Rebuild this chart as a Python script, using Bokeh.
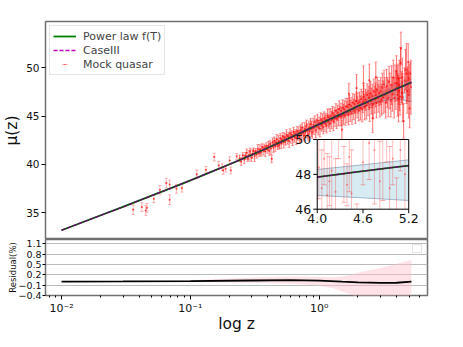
import numpy as np
from bokeh.plotting import figure
from bokeh.models import (Range1d, LinearScale, FixedTicker, Legend, LegendItem)
from bokeh.layouts import column
from bokeh.embed import file_html
from bokeh.resources import INLINE
from bokeh.core.properties import value

FONT = "DejaVu Sans"

# ---------------- data ----------------
# model curves mu(z)
line_z = [0.01, 0.02, 0.03, 0.05, 0.07, 0.1, 0.15, 0.2, 0.3, 0.4, 0.5, 0.7, 1.0, 1.3, 1.6,
          2.0, 2.5, 3.0, 3.5, 4.0, 4.5, 5.0, 5.2]
powerlaw_mu = [33.20, 34.72, 35.61, 36.77, 37.53, 38.35, 39.31, 40.00, 41.00, 41.73, 42.31, 43.21,
               44.17, 44.87, 45.42, 46.03, 46.62, 47.09, 47.49, 47.84, 48.13, 48.40, 48.50]
case3_mu = [33.20, 34.72, 35.61, 36.77, 37.53, 38.35, 39.31, 40.00, 41.00, 41.73, 42.31, 43.21,
            44.17, 44.87, 45.42, 46.03, 46.62, 47.09, 47.49, 47.84, 48.13, 48.40, 48.50]
recon_mu = [33.20, 34.72, 35.61, 36.77, 37.53, 38.35, 39.31, 40.00, 41.00, 41.73, 42.31, 43.21,
            44.17, 44.87, 45.42, 46.03, 46.62, 47.09, 47.49, 47.84, 48.13, 48.40, 48.50]

# reconstruction confidence band
band_z = [0.01, 0.1, 0.3, 0.5, 1.0, 1.5, 2.0, 2.5, 3.0, 3.5, 4.0, 4.6, 5.2]
band_up = [33.22, 38.38, 41.06, 42.36, 44.24, 45.33, 46.15, 46.90, 47.40, 47.85, 48.28, 48.55, 48.83]
band_lo = [33.18, 38.32, 40.96, 42.26, 44.06, 45.05, 45.75, 46.25, 46.55, 46.70, 46.79, 46.65, 46.50]

# mock quasar sample
quasar_z = [
    0.036, 0.042, 0.045, 0.046, 0.052, 0.058, 0.065, 0.069, 0.069, 0.078, 0.086, 0.112, 0.132,
    0.153, 0.166, 0.177, 0.180, 0.188, 0.202, 0.206, 0.229,
    0.241, 0.248, 0.255, 0.262, 0.268, 0.274, 0.279, 0.285, 0.291, 0.297, 0.303, 0.309, 0.315,
    0.321, 0.328, 0.334, 0.341, 0.347, 0.353, 0.360, 0.367, 0.374, 0.381, 0.388, 0.395, 0.428,
    0.403, 0.409, 0.416, 0.422, 0.435, 0.441, 0.448, 0.455, 0.462, 0.469, 0.476, 0.484, 0.491,
    0.499, 0.507, 0.515, 0.523, 0.531, 0.540, 0.548, 0.557, 0.566, 0.575, 0.584, 0.593, 0.603,
    0.612, 0.622, 0.632, 0.642, 0.652, 0.663, 0.673, 0.684, 0.695,
    0.705, 0.716, 0.727, 0.738, 0.749, 0.761, 0.772, 0.784, 0.796, 0.808, 0.820, 0.833, 0.845,
    0.858, 0.871, 0.884, 0.898, 0.911, 0.925, 0.939, 0.954, 0.968, 0.983, 0.998, 1.013, 1.028,
    1.044, 1.060, 1.076, 1.092, 1.109, 1.126, 1.143, 1.160, 1.178, 1.195,
    1.213, 1.231, 1.250, 1.269, 1.288, 1.308, 1.328, 1.348, 1.368, 1.389, 1.410, 1.432, 1.453,
    1.476, 1.498, 1.521, 1.544, 1.568, 1.592, 1.616, 1.641, 1.666, 1.691, 1.717, 1.743, 1.770,
    1.797, 1.824, 1.852, 1.880, 1.909, 1.938, 1.967, 1.997, 1.500, 1.700, 1.950,
    2.027, 2.058, 2.089, 2.121, 2.153, 2.186, 2.219, 2.253, 2.287, 2.322, 2.357, 2.393, 2.429,
    2.466, 2.503, 2.541, 2.580, 2.619, 2.659, 2.699, 2.740, 2.782, 2.824, 2.867, 2.911, 2.955,
    2.205, 2.450, 2.750, 2.600,
    3.000, 3.046, 3.092, 3.139, 3.187, 3.235, 3.284, 3.334, 3.385, 3.436, 3.488, 3.541, 3.595,
    3.650, 3.705, 3.761, 3.818, 3.876, 3.935, 3.980,
    4.020, 4.060, 4.090, 4.130, 4.160, 4.190, 4.240, 4.280, 4.310, 4.350, 4.390, 4.420, 4.450,
    4.520, 4.600, 4.680, 4.750, 4.820, 4.860, 4.910, 4.950, 4.990, 5.040, 5.090, 5.150,
]
quasar_mu = [
    35.32, 35.59, 35.24, 35.52, 36.45, 37.38, 38.07, 37.93, 36.35, 37.49, 37.55, 38.97, 39.45,
    40.76, 39.90, 39.72, 39.38, 39.56, 40.41, 39.38, 40.83,
    40.62, 40.31, 40.95, 40.52, 40.88, 41.20, 40.60, 40.95, 41.35, 40.72, 41.08, 41.40, 40.85,
    41.30, 41.05, 41.62, 41.18, 41.55, 41.25, 41.80, 41.42, 41.70, 41.38, 41.90, 41.55, 40.59,
    41.95, 41.40, 42.10, 41.65, 42.30, 41.75, 42.45, 41.90, 42.25, 42.60, 41.95, 42.40, 42.05,
    42.70, 42.20, 42.55, 42.90, 42.30, 42.75, 42.45, 43.05, 42.60, 42.90, 42.40, 43.20, 42.75,
    43.05, 42.55, 43.35, 42.85, 43.15, 42.70, 43.45, 43.00, 43.30,
    42.85, 43.55, 43.10, 43.80, 43.25, 43.00, 43.65, 43.35, 44.05, 43.50, 43.10, 43.85, 43.45,
    44.20, 43.70, 43.30, 44.10, 43.75, 44.45, 43.55, 44.00, 44.55, 43.80, 44.30, 43.70, 44.65,
    44.10, 44.45, 43.90, 44.80, 44.25, 44.60, 44.05, 45.00, 44.45, 44.85,
    44.20, 45.05, 44.60, 45.30, 44.45, 45.10, 44.75, 45.55, 44.70, 45.35, 44.90, 45.75, 45.00,
    45.55, 44.95, 45.85, 45.20, 45.70, 45.05, 46.00, 45.40, 45.95, 45.15, 46.20, 45.55, 46.05,
    45.30, 46.40, 45.70, 46.25, 45.45, 46.55, 45.90, 46.35, 43.60, 47.30, 47.90,
    45.60, 46.50, 45.85, 46.75, 45.70, 46.45, 47.00, 45.95, 46.70, 46.10, 47.20, 46.35, 46.90,
    45.90, 47.35, 46.55, 47.10, 46.20, 47.55, 46.70, 47.20, 46.35, 47.70, 46.85, 47.40, 46.50,
    48.40, 48.70, 49.00, 44.80,
    47.60, 46.70, 47.95, 46.95, 48.30, 47.20, 46.40, 48.10, 47.45, 46.85, 48.55, 47.60, 46.60,
    48.20, 47.25, 49.00, 46.90, 48.40, 47.70, 49.60,
    48.40, 47.20, 48.90, 46.80, 47.60, 48.20, 47.00, 50.50, 52.00, 48.00, 47.40, 49.00, 46.90,
    44.50, 48.70, 49.80, 49.40, 47.60, 48.30, 50.60, 47.20, 48.90, 45.80, 49.40, 48.00,
]
quasar_err = [
    0.50, 0.45, 0.50, 0.45, 0.40, 0.45, 0.50, 0.45, 0.50, 0.45, 0.40, 0.45, 0.35,
    0.40, 0.40, 0.35, 0.40, 0.35, 0.40, 0.35, 0.30,
    0.35, 0.40, 0.30, 0.45, 0.35, 0.40, 0.30, 0.50, 0.35, 0.40, 0.45, 0.30, 0.55,
    0.35, 0.40, 0.45, 0.35, 0.50, 0.40, 0.35, 0.45, 0.40, 0.55, 0.35, 0.40, 0.40,
    0.45, 0.50, 0.40, 0.60, 0.45, 0.50, 0.40, 0.55, 0.45, 0.50, 0.40, 0.60, 0.45,
    0.50, 0.55, 0.45, 0.40, 0.60, 0.50, 0.45, 0.55, 0.50, 0.45, 0.65, 0.50, 0.55,
    0.45, 0.60, 0.50, 0.55, 0.45, 0.65, 0.50, 0.55, 0.60,
    0.60, 0.55, 0.70, 0.50, 0.65, 0.55, 0.70, 0.60, 0.55, 0.75, 0.60, 0.65, 0.70,
    0.55, 0.80, 0.60, 0.70, 0.65, 0.60, 0.80, 0.70, 0.65, 0.75, 0.60, 0.85, 0.70,
    0.65, 0.80, 0.75, 0.65, 0.85, 0.70, 0.80, 0.75, 0.70, 0.90,
    0.80, 0.75, 0.90, 0.70, 0.95, 0.80, 0.85, 0.75, 1.00, 0.80, 0.90, 0.85, 1.00,
    0.80, 0.95, 0.85, 1.05, 0.90, 1.00, 0.85, 1.10, 0.90, 1.05, 0.95, 1.10, 0.90,
    1.15, 0.95, 1.05, 1.00, 1.20, 0.95, 1.10, 1.05, 1.00, 1.10, 1.40,
    1.10, 1.00, 1.25, 1.05, 1.30, 1.10, 1.20, 1.35, 1.10, 1.40, 1.15, 1.30, 1.20,
    1.45, 1.25, 1.35, 1.20, 1.50, 1.30, 1.40, 1.25, 1.55, 1.35, 1.45, 1.30, 1.60,
    1.80, 1.70, 1.60, 1.50,
    1.40, 1.60, 1.50, 1.70, 1.45, 1.80, 1.60, 1.75, 1.55, 1.90, 1.60, 1.85, 1.70,
    2.00, 1.75, 1.80, 2.10, 1.90, 2.00, 1.65,
    1.80, 2.20, 1.50, 2.40, 1.40, 2.60, 1.90, 1.60, 1.70, 1.60, 1.20, 2.00, 2.50,
    1.80, 1.30, 2.10, 3.10, 2.30, 1.80, 1.90, 2.40, 1.50, 2.00, 1.20, 2.80,
]

# residual panel
res_z = [0.01, 0.03, 0.1, 0.3, 0.6, 1.0, 1.5, 2.0, 3.0, 4.0, 5.2]
res_val = [0.005, 0.008, 0.015, 0.035, 0.045, 0.03, 0.0, -0.02, -0.035, -0.03, 0.005]
res_band_z = [0.01, 0.03, 0.06, 0.1, 0.2, 0.4, 0.7, 1.0, 1.3, 1.7, 2.1, 3.0, 4.0, 5.2]
res_band_up = [0.01, 0.012, 0.02, 0.04, 0.09, 0.14, 0.15, 0.14, 0.13, 0.18, 0.28, 0.40, 0.52, 0.63]
res_band_lo = [-0.005, -0.006, -0.008, -0.01, -0.02, -0.04, -0.07, -0.12, -0.20, -0.35, -0.50, -0.60, -0.60, -0.60]

# axes
x_lim = [0.007505, 6.929]
main_y_lim = [32.24, 54.79]
main_y_ticks = [35, 40, 45, 50]
res_y_lim = [-0.4, 1.225]
res_y_ticks = [-0.4, -0.1, 0.2, 0.5, 0.8, 1.1]
res_y_labels = {-0.4: "\u22120.4", -0.1: "\u22120.1", 0.2: "0.2", 0.5: "0.5", 0.8: "0.8", 1.1: "1.1"}
x_major = [0.01, 0.1, 1.0]
x_labels = {0.01: "10\u207b\u00b2", 0.1: "10\u207b\u00b9", 1.0: "10\u2070"}
x_minor = [0.008, 0.009, 0.02, 0.03, 0.04, 0.05, 0.06, 0.07, 0.08, 0.09,
           0.2, 0.3, 0.4, 0.5, 0.6, 0.7, 0.8, 0.9, 2.0, 3.0, 4.0, 5.0, 6.0]
inset_x_lim = [4.0, 5.2]
inset_y_lim = [46.0, 50.0]
inset_x_ticks = [4.0, 4.6, 5.2]
inset_x_labels = ["4.0", "4.6", "5.2"]
inset_y_ticks = [46.0, 48.0, 50.0]
inset_y_labels = ["46", "48", "50"]

# ---------------- layout ----------------
W = 440
TOP = 21
MAIN_H = 239
RES_H = 98
LEFT, RIGHT, RES_BOTTOM = 40, 13, 42
frame_w = W - LEFT - RIGHT
frame_h = MAIN_H - TOP
# inset box in frame pixels (left, right, top, bottom measured from frame top-left)
ins_px = (275.3, 368.0, 118.0, 187.7)

OUTLINE = "#707070"

z = np.array(quasar_z)
mu = np.array(quasar_mu)
err = np.array(quasar_err)
bar_alpha = np.where(z < 0.235, 0.25, 0.5)

x_range = Range1d(*x_lim)
main = figure(width=W, height=MAIN_H, x_range=x_range, y_range=Range1d(*main_y_lim),
              x_axis_type="log", x_axis_location=None, output_backend="svg",
              toolbar_location=None, min_border_left=LEFT, min_border_right=RIGHT,
              min_border_top=TOP, min_border_bottom=0)
main.outline_line_color = OUTLINE
main.outline_line_width = 1.5
main.grid.visible = False
main.yaxis.ticker = FixedTicker(ticks=main_y_ticks)
main.yaxis.axis_line_color = None
main.yaxis.major_tick_out = 4
main.yaxis.major_tick_in = 0
main.yaxis.minor_tick_out = 0
main.yaxis.minor_tick_in = 0
main.yaxis.major_label_standoff = 2
main.yaxis.major_label_text_font = FONT
main.yaxis.major_label_text_font_size = "10.5px"
main.yaxis.major_label_text_color = "#111111"
main.yaxis.axis_label = "\u03bc(z)"
main.yaxis.axis_label_text_font = FONT
main.yaxis.axis_label_text_font_size = "15.5px"
main.yaxis.axis_label_text_font_style = "normal"
main.yaxis.axis_label_text_color = "#111111"
main.yaxis.axis_label_standoff = 2

# band
main.varea(x=band_z, y1=band_lo, y2=band_up, fill_color="lightblue", fill_alpha=0.5)
main.line(band_z, band_lo, line_color="#6f9fc4", line_width=1, line_alpha=0.8)
main.line(band_z, band_up, line_color="#6f9fc4", line_width=1, line_alpha=0.5)

# quasars
main.segment(x0=z, y0=mu - err, x1=z, y1=mu + err, line_color="red", line_alpha=bar_alpha,
             line_width=1.1)
main.scatter(np.concatenate([z, z]), np.concatenate([mu - err, mu + err]), marker="dash", size=3,
             line_color="red", line_alpha=0.3)
main.scatter(z, mu, marker="circle", size=2.2, fill_color="red", line_color=None, fill_alpha=0.65)

r_pl = main.line(line_z, powerlaw_mu, line_color="green", line_width=1.8)
r_c3 = main.line(line_z, case3_mu, line_color="#bf00bf", line_width=1.3, line_dash="4 2")
main.line(line_z, recon_mu, line_color="#1a1a1a", line_width=0.7)

proxy_bar = main.scatter(x=[np.nan], y=[np.nan], marker="dash", angle=np.pi / 2, size=13,
                         line_color="red", line_alpha=0.35, line_width=1)
proxy_dot = main.scatter(x=[np.nan], y=[np.nan], marker="dot", size=4,
                         line_color="red", fill_color="red", line_alpha=0.6)

legend = Legend(items=[LegendItem(label="Power law f(T)", renderers=[r_pl]),
                       LegendItem(label="CaseIII", renderers=[r_c3]),
                       LegendItem(label="Mock quasar", renderers=[proxy_bar, proxy_dot])],
                location="top_left")
legend.margin = 4
legend.padding = 3
legend.spacing = 0
legend.glyph_width = 23
legend.glyph_height = 14
legend.label_height = 14
legend.label_standoff = 7
legend.label_text_font = FONT
legend.label_text_font_size = "11px"
legend.border_line_color = "#cccccc"
legend.background_fill_alpha = 0.85
main.add_layout(legend)

# ---------------- inset ----------------
ux = (inset_x_lim[1] - inset_x_lim[0]) / (ins_px[1] - ins_px[0])
uy = (inset_y_lim[1] - inset_y_lim[0]) / (ins_px[3] - ins_px[2])
main.extra_x_ranges = {"ins": Range1d(inset_x_lim[0] - ins_px[0] * ux,
                                      inset_x_lim[1] + (frame_w - ins_px[1]) * ux)}
main.extra_y_ranges = {"ins": Range1d(inset_y_lim[0] - (frame_h - ins_px[3]) * uy,
                                      inset_y_lim[1] + ins_px[2] * uy)}
main.extra_x_scales = {"ins": LinearScale()}
main.extra_y_scales = {"ins": LinearScale()}
kw = dict(x_range_name="ins", y_range_name="ins")

main.quad(left=[inset_x_lim[0]], right=[inset_x_lim[1]], bottom=[inset_y_lim[0]],
          top=[inset_y_lim[1]], fill_color="white", line_color=None, **kw)

bz = np.array(band_z)
bm = bz >= inset_x_lim[0]
main.varea(x=bz[bm], y1=np.array(band_lo)[bm], y2=np.array(band_up)[bm],
           fill_color="lightblue", fill_alpha=0.5, **kw)
main.line(bz[bm], np.array(band_lo)[bm], line_color="#8fa8c0", line_width=1, line_alpha=0.8, **kw)
main.line(bz[bm], np.array(band_up)[bm], line_color="#8fa8c0", line_width=1, line_alpha=0.8, **kw)

m = (z >= inset_x_lim[0]) & (z <= inset_x_lim[1])
zi, mi, ei = z[m], mu[m], err[m]
lo = np.clip(mi - ei, *inset_y_lim)
hi = np.clip(mi + ei, *inset_y_lim)
keep = hi > lo
main.segment(x0=zi[keep], y0=lo[keep], x1=zi[keep], y1=hi[keep], line_color="red",
             line_alpha=0.25, line_width=1, **kw)
cap_lo = (mi - ei >= inset_y_lim[0]) & (mi - ei <= inset_y_lim[1])
cap_hi = (mi + ei >= inset_y_lim[0]) & (mi + ei <= inset_y_lim[1])
main.scatter(np.concatenate([zi[cap_lo], zi[cap_hi]]),
             np.concatenate([(mi - ei)[cap_lo], (mi + ei)[cap_hi]]),
             marker="dash", size=5, line_color="red", line_alpha=0.3, **kw)
dm = (mi >= inset_y_lim[0]) & (mi <= inset_y_lim[1])
main.scatter(zi[dm], mi[dm], marker="circle", size=2, fill_color="red", line_color=None,
             fill_alpha=0.4, **kw)

lz = np.array(line_z)
lm = lz >= inset_x_lim[0]
main.line(lz[lm], np.array(powerlaw_mu)[lm], line_color="green", line_width=1.8, **kw)
main.line(lz[lm], np.array(case3_mu)[lm], line_color="#bf00bf", line_width=1.3, line_dash="4 2", **kw)
main.line(lz[lm], np.array(recon_mu)[lm], line_color="#1a1a1a", line_width=0.7, **kw)

main.quad(left=[inset_x_lim[0]], right=[inset_x_lim[1]], bottom=[inset_y_lim[0]],
          top=[inset_y_lim[1]], fill_color=None, line_color="black", line_width=1, **kw)
main.ray(x=inset_x_ticks, y=[inset_y_lim[0]] * 3, length=4, length_units="screen",
         angle=-np.pi / 2, line_color="black", line_width=1, **kw)
main.ray(x=[inset_x_lim[0]] * 3, y=inset_y_ticks, length=4, length_units="screen",
         angle=np.pi, line_color="black", line_width=1, **kw)
main.text(x=inset_x_ticks, y=[inset_y_lim[0]] * 3, text=inset_x_labels, y_offset=5,
          text_align="center", text_baseline="top", text_font=value(FONT),
          text_font_size="12.5px", text_color="#111111", **kw)
main.text(x=[inset_x_lim[0]] * 3, y=inset_y_ticks, text=inset_y_labels, x_offset=-6,
          text_align="right", text_baseline="middle", text_font=value(FONT),
          text_font_size="12.5px", text_color="#111111", **kw)

# ---------------- residual ----------------
res = figure(width=W, height=RES_H, x_range=x_range, y_range=Range1d(*res_y_lim),
             x_axis_type="log", output_backend="svg", toolbar_location=None,
             min_border_left=LEFT, min_border_right=RIGHT, min_border_top=0,
             min_border_bottom=RES_BOTTOM)
res.outline_line_color = OUTLINE
res.outline_line_width = 1.5
res.xgrid.visible = False
res.ygrid.ticker = FixedTicker(ticks=res_y_ticks)
res.ygrid.grid_line_color = "#bbbbbb"
res.ygrid.grid_line_width = 1
res.yaxis.ticker = FixedTicker(ticks=res_y_ticks)
res.yaxis.major_label_overrides = res_y_labels
res.xaxis.ticker = FixedTicker(ticks=x_major, minor_ticks=x_minor)
res.xaxis.major_label_overrides = x_labels
for ax in (res.xaxis, res.yaxis):
    ax.axis_line_color = None
    ax.major_tick_out = 4
    ax.major_tick_in = 0
    ax.major_label_standoff = 2
    ax.major_label_text_font = FONT
    ax.major_label_text_color = "#111111"
res.yaxis.major_tick_out = 3
res.yaxis.major_label_standoff = 1
res.yaxis.minor_tick_out = 0
res.yaxis.minor_tick_in = 0
res.xaxis.minor_tick_out = 2
res.xaxis.minor_tick_in = 0
res.yaxis.major_label_text_font_size = "9.5px"
res.xaxis.major_label_text_font_size = "11px"
res.xaxis.axis_label = "log z"
res.xaxis.axis_label_text_font = FONT
res.xaxis.axis_label_text_font_size = "15.5px"
res.xaxis.axis_label_text_font_style = "normal"
res.xaxis.axis_label_standoff = -3
res.xaxis.axis_label_text_color = "#111111"
res.yaxis.axis_label = "Residual(%)"
res.yaxis.axis_label_text_font = FONT
res.yaxis.axis_label_text_font_size = "8.5px"
res.yaxis.axis_label_text_font_style = "normal"
res.yaxis.axis_label_text_color = "#111111"
res.yaxis.axis_label_standoff = -3

res.varea(x=res_band_z, y1=res_band_lo, y2=res_band_up, fill_color="pink", fill_alpha=0.45)
res.line(res_z, res_val, line_color="black", line_width=1.8)

# empty legend box (as in the reference)
empty_r = res.scatter(x=[np.nan], y=[np.nan], marker="circle", size=1, fill_alpha=0, line_alpha=0)
res_legend = Legend(items=[LegendItem(label=" ", renderers=[empty_r])], location="top_right")
res_legend.margin = 5
res_legend.padding = 3
res_legend.glyph_width = 1
res_legend.glyph_height = 1
res_legend.label_height = 1
res_legend.label_width = 1
res_legend.label_standoff = 0
res_legend.label_text_font_size = "1px"
res_legend.border_line_color = "#cccccc"
res_legend.background_fill_alpha = 0.85
res.add_layout(res_legend)

layout = column(main, res, spacing=0)
open("out.html", "w").write(file_html(layout, INLINE))
